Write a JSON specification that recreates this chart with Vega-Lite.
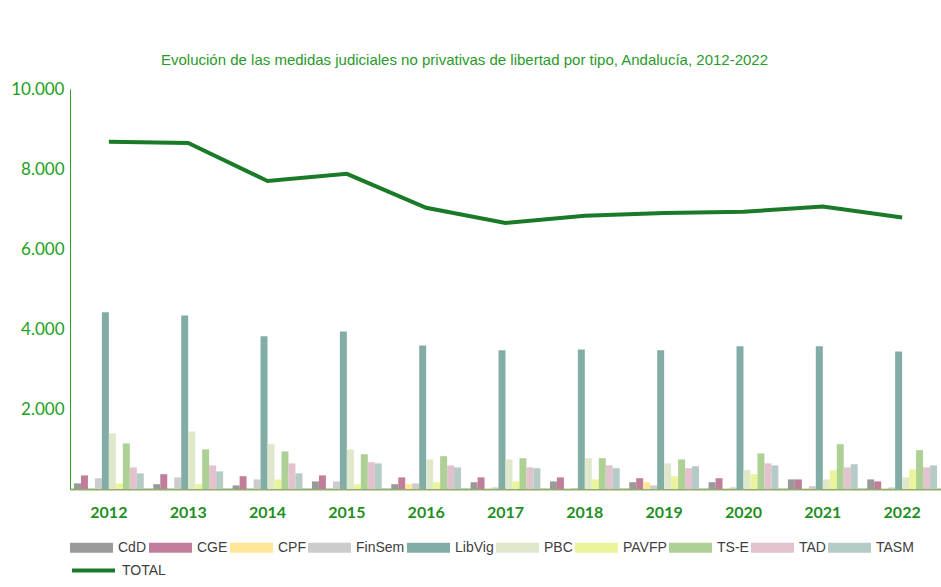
{
  "$schema": "https://vega.github.io/schema/vega-lite/v6.json",
  "width": 871,
  "height": 400,
  "autosize": {"type": "none"},
  "padding": {"left": 70, "top": 89, "right": 0, "bottom": 98},
  "background": "white",
  "config": {
    "locale": {"number": {"decimal": ",", "thousands": ".", "grouping": [3], "currency": ["", " €"]}},
    "view": {"stroke": null},
    "axis": {"grid": false}
  },
  "title": {
    "text": "Evolución de las medidas judiciales no privativas de libertad por tipo, Andalucía, 2012-2022",
    "font": "Liberation Sans",
    "fontSize": 15,
    "fontWeight": "normal",
    "color": "#2a9a2a",
    "anchor": "middle",
    "dx": -41,
    "offset": 12
  },
  "datasets": {
    "bars": [
      {"year": 2012, "serie": "CdD", "value": 140}, {"year": 2012, "serie": "CGE", "value": 340}, {"year": 2012, "serie": "CPF", "value": 0}, {"year": 2012, "serie": "FinSem", "value": 270}, {"year": 2012, "serie": "LibVig", "value": 4420}, {"year": 2012, "serie": "PBC", "value": 1390}, {"year": 2012, "serie": "PAVFP", "value": 140}, {"year": 2012, "serie": "TS-E", "value": 1140}, {"year": 2012, "serie": "TAD", "value": 540}, {"year": 2012, "serie": "TASM", "value": 390},
      {"year": 2013, "serie": "CdD", "value": 120}, {"year": 2013, "serie": "CGE", "value": 370}, {"year": 2013, "serie": "CPF", "value": 0}, {"year": 2013, "serie": "FinSem", "value": 290}, {"year": 2013, "serie": "LibVig", "value": 4340}, {"year": 2013, "serie": "PBC", "value": 1440}, {"year": 2013, "serie": "PAVFP", "value": 120}, {"year": 2013, "serie": "TS-E", "value": 990}, {"year": 2013, "serie": "TAD", "value": 590}, {"year": 2013, "serie": "TASM", "value": 440},
      {"year": 2014, "serie": "CdD", "value": 90}, {"year": 2014, "serie": "CGE", "value": 320}, {"year": 2014, "serie": "CPF", "value": 0}, {"year": 2014, "serie": "FinSem", "value": 240}, {"year": 2014, "serie": "LibVig", "value": 3820}, {"year": 2014, "serie": "PBC", "value": 1120}, {"year": 2014, "serie": "PAVFP", "value": 240}, {"year": 2014, "serie": "TS-E", "value": 940}, {"year": 2014, "serie": "TAD", "value": 640}, {"year": 2014, "serie": "TASM", "value": 390},
      {"year": 2015, "serie": "CdD", "value": 190}, {"year": 2015, "serie": "CGE", "value": 340}, {"year": 2015, "serie": "CPF", "value": 0}, {"year": 2015, "serie": "FinSem", "value": 190}, {"year": 2015, "serie": "LibVig", "value": 3940}, {"year": 2015, "serie": "PBC", "value": 990}, {"year": 2015, "serie": "PAVFP", "value": 120}, {"year": 2015, "serie": "TS-E", "value": 870}, {"year": 2015, "serie": "TAD", "value": 670}, {"year": 2015, "serie": "TASM", "value": 640},
      {"year": 2016, "serie": "CdD", "value": 120}, {"year": 2016, "serie": "CGE", "value": 290}, {"year": 2016, "serie": "CPF", "value": 120}, {"year": 2016, "serie": "FinSem", "value": 140}, {"year": 2016, "serie": "LibVig", "value": 3590}, {"year": 2016, "serie": "PBC", "value": 740}, {"year": 2016, "serie": "PAVFP", "value": 170}, {"year": 2016, "serie": "TS-E", "value": 820}, {"year": 2016, "serie": "TAD", "value": 590}, {"year": 2016, "serie": "TASM", "value": 540},
      {"year": 2017, "serie": "CdD", "value": 170}, {"year": 2017, "serie": "CGE", "value": 290}, {"year": 2017, "serie": "CPF", "value": 20}, {"year": 2017, "serie": "FinSem", "value": 40}, {"year": 2017, "serie": "LibVig", "value": 3470}, {"year": 2017, "serie": "PBC", "value": 740}, {"year": 2017, "serie": "PAVFP", "value": 190}, {"year": 2017, "serie": "TS-E", "value": 770}, {"year": 2017, "serie": "TAD", "value": 540}, {"year": 2017, "serie": "TASM", "value": 520},
      {"year": 2018, "serie": "CdD", "value": 190}, {"year": 2018, "serie": "CGE", "value": 290}, {"year": 2018, "serie": "CPF", "value": 20}, {"year": 2018, "serie": "FinSem", "value": 20}, {"year": 2018, "serie": "LibVig", "value": 3490}, {"year": 2018, "serie": "PBC", "value": 770}, {"year": 2018, "serie": "PAVFP", "value": 240}, {"year": 2018, "serie": "TS-E", "value": 770}, {"year": 2018, "serie": "TAD", "value": 590}, {"year": 2018, "serie": "TASM", "value": 520},
      {"year": 2019, "serie": "CdD", "value": 170}, {"year": 2019, "serie": "CGE", "value": 270}, {"year": 2019, "serie": "CPF", "value": 170}, {"year": 2019, "serie": "FinSem", "value": 90}, {"year": 2019, "serie": "LibVig", "value": 3470}, {"year": 2019, "serie": "PBC", "value": 640}, {"year": 2019, "serie": "PAVFP", "value": 320}, {"year": 2019, "serie": "TS-E", "value": 740}, {"year": 2019, "serie": "TAD", "value": 520}, {"year": 2019, "serie": "TASM", "value": 570},
      {"year": 2020, "serie": "CdD", "value": 170}, {"year": 2020, "serie": "CGE", "value": 270}, {"year": 2020, "serie": "CPF", "value": 20}, {"year": 2020, "serie": "FinSem", "value": 40}, {"year": 2020, "serie": "LibVig", "value": 3570}, {"year": 2020, "serie": "PBC", "value": 470}, {"year": 2020, "serie": "PAVFP", "value": 370}, {"year": 2020, "serie": "TS-E", "value": 890}, {"year": 2020, "serie": "TAD", "value": 640}, {"year": 2020, "serie": "TASM", "value": 590},
      {"year": 2021, "serie": "CdD", "value": 240}, {"year": 2021, "serie": "CGE", "value": 240}, {"year": 2021, "serie": "CPF", "value": 20}, {"year": 2021, "serie": "FinSem", "value": 70}, {"year": 2021, "serie": "LibVig", "value": 3570}, {"year": 2021, "serie": "PBC", "value": 240}, {"year": 2021, "serie": "PAVFP", "value": 470}, {"year": 2021, "serie": "TS-E", "value": 1120}, {"year": 2021, "serie": "TAD", "value": 540}, {"year": 2021, "serie": "TASM", "value": 620},
      {"year": 2022, "serie": "CdD", "value": 240}, {"year": 2022, "serie": "CGE", "value": 190}, {"year": 2022, "serie": "CPF", "value": 20}, {"year": 2022, "serie": "FinSem", "value": 40}, {"year": 2022, "serie": "LibVig", "value": 3440}, {"year": 2022, "serie": "PBC", "value": 290}, {"year": 2022, "serie": "PAVFP", "value": 490}, {"year": 2022, "serie": "TS-E", "value": 970}, {"year": 2022, "serie": "TAD", "value": 540}, {"year": 2022, "serie": "TASM", "value": 590}
    ],
    "total": [
      {"year": 2012, "total": 8680}, {"year": 2013, "total": 8650}, {"year": 2014, "total": 7700}, {"year": 2015, "total": 7880}, {"year": 2016, "total": 7030}, {"year": 2017, "total": 6650}, {"year": 2018, "total": 6830}, {"year": 2019, "total": 6900}, {"year": 2020, "total": 6930}, {"year": 2021, "total": 7060}, {"year": 2022, "total": 6790}
    ]
  },
  "layer": [
    {
      "data": {"name": "bars"},
      "mark": {"type": "bar"},
      "encoding": {
        "x": {
          "field": "year", "type": "nominal",
          "scale": {"paddingInner": 0.12, "paddingOuter": 0.05},
          "axis": {"title": null, "labelAngle": 0, "labelFont": "Lato", "labelFontSize": 16, "labelFontWeight": "bold", "labelColor": "#1f8f1f", "ticks": false, "labelPadding": 15, "domainColor": "#8fae6a", "domainWidth": 2}
        },
        "xOffset": {
          "field": "serie", "type": "nominal",
          "sort": ["CdD", "CGE", "CPF", "FinSem", "LibVig", "PBC", "PAVFP", "TS-E", "TAD", "TASM"],
          "scale": {"paddingInner": 0, "paddingOuter": 0}
        },
        "y": {
          "field": "value", "type": "quantitative",
          "scale": {"domain": [0, 10000]},
          "axis": {"title": null, "values": [2000, 4000, 6000, 8000, 10000], "format": ",d", "labelFont": "Lato", "labelFontSize": 17, "labelColor": "#22a022", "domainColor": "#2aa02a", "ticks": false, "labelPadding": 6}
        },
        "fill": {
          "field": "serie", "type": "nominal",
          "scale": {
            "domain": ["CdD", "CGE", "CPF", "FinSem", "LibVig", "PBC", "PAVFP", "TS-E", "TAD", "TASM"],
            "range": ["#9a9a9a", "#c07e9c", "#ffe699", "#cccccc", "#82ada6", "#dfe8cb", "#ecf39d", "#add094", "#e2c2cc", "#b5cbc8"]
          },
          "legend": {
            "orient": "none", "legendX": 0, "legendY": 437, "direction": "horizontal", "title": null,
            "symbolType": "M-1,-0.23H1V0.23H-1Z", "symbolSize": 1849, "symbolStrokeWidth": 0,
            "labelFont": "Liberation Sans", "labelFontSize": 14, "labelColor": "#404040",
            "labelOffset": 5, "columnPadding": 2, "labelLimit": 200
          }
        }
      }
    },
    {
      "data": {"name": "total"},
      "mark": {"type": "line", "strokeWidth": 4},
      "encoding": {
        "x": {"field": "year", "type": "nominal"},
        "y": {"field": "total", "type": "quantitative"},
        "stroke": {
          "datum": "TOTAL", "type": "nominal",
          "scale": {"range": ["#1a7a28"]},
          "legend": {
            "orient": "none", "legendX": 0, "legendY": 458, "title": null,
            "symbolType": "stroke", "symbolSize": 1849, "symbolStrokeWidth": 4,
            "labelFont": "Liberation Sans", "labelFontSize": 14, "labelColor": "#404040", "labelOffset": 5
          }
        }
      }
    }
  ]
}
